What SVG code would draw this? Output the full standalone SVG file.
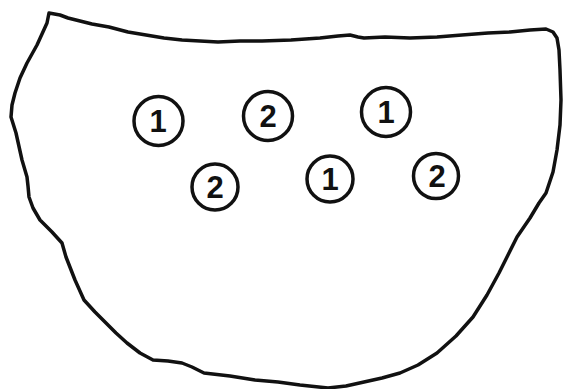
<svg xmlns="http://www.w3.org/2000/svg" width="571" height="389" viewBox="0 0 571 389">
<style>
.outline{fill:none;stroke:#111;stroke-width:3.5;stroke-linejoin:round;stroke-linecap:round}
.ring{fill:none;stroke:#111;stroke-width:3.5}
.num{font-family:"Liberation Sans",Arial,sans-serif;font-weight:bold;font-size:31px;fill:#111;text-anchor:middle}
</style>
<rect width="571" height="389" fill="#fff"/>
<path class="outline" d="M49,13 L60,15 L68,18 L76,20 L92,24 L109,27 L128,32 L146,35 L164,38 L182,40 L200,41 L218,42 L240,41 L262,41 L291,40 L320,38 L338,36 L350,35 L358,37 L364,38 L385,37 L410,38 L437,37 L462,35 L488,33 L510,32 L530,30 L546,29 L553,32 L557,38 L559,50 L560,70 L561,100 L560,125 L557,150 L553,172 L546,193 L539,203 L530,218 L517,237 L508,255 L499,273 L487,295 L473,317 L456,336 L437,353 L418,365 L400,373 L382,378 L364,382 L346,386 L328,388 L300,385 L278,382 L255,380 L230,376 L204,373 L192,367 L182,363 L168,361 L153,360 L140,353 L127,343 L116,333 L106,323 L95,312 L84,300 L75,280 L66,257 L62,243 L52,232 L40,220 L33,208 L29,197 L28,186 L27,177 L22,160 L16,133 L11,117 L12,105 L15,93 L20,78 L27,63 L37,45 L47,23 Z"/>
<g id="n1"><circle class="ring" cx="158.5" cy="121" r="24.5"/><text class="num" x="158" y="132">1</text></g>
<g id="n2"><circle class="ring" cx="268" cy="116" r="24.5"/><text class="num" x="268" y="127">2</text></g>
<g id="n3"><circle class="ring" cx="386" cy="112" r="24.5"/><text class="num" x="386" y="123">1</text></g>
<g id="n4"><circle class="ring" cx="215" cy="187" r="23"/><text class="num" x="215" y="198">2</text></g>
<g id="n5"><circle class="ring" cx="330" cy="179" r="23"/><text class="num" x="330" y="190">1</text></g>
<g id="n6"><circle class="ring" cx="436" cy="176" r="22.5"/><text class="num" x="437" y="187">2</text></g>
</svg>
